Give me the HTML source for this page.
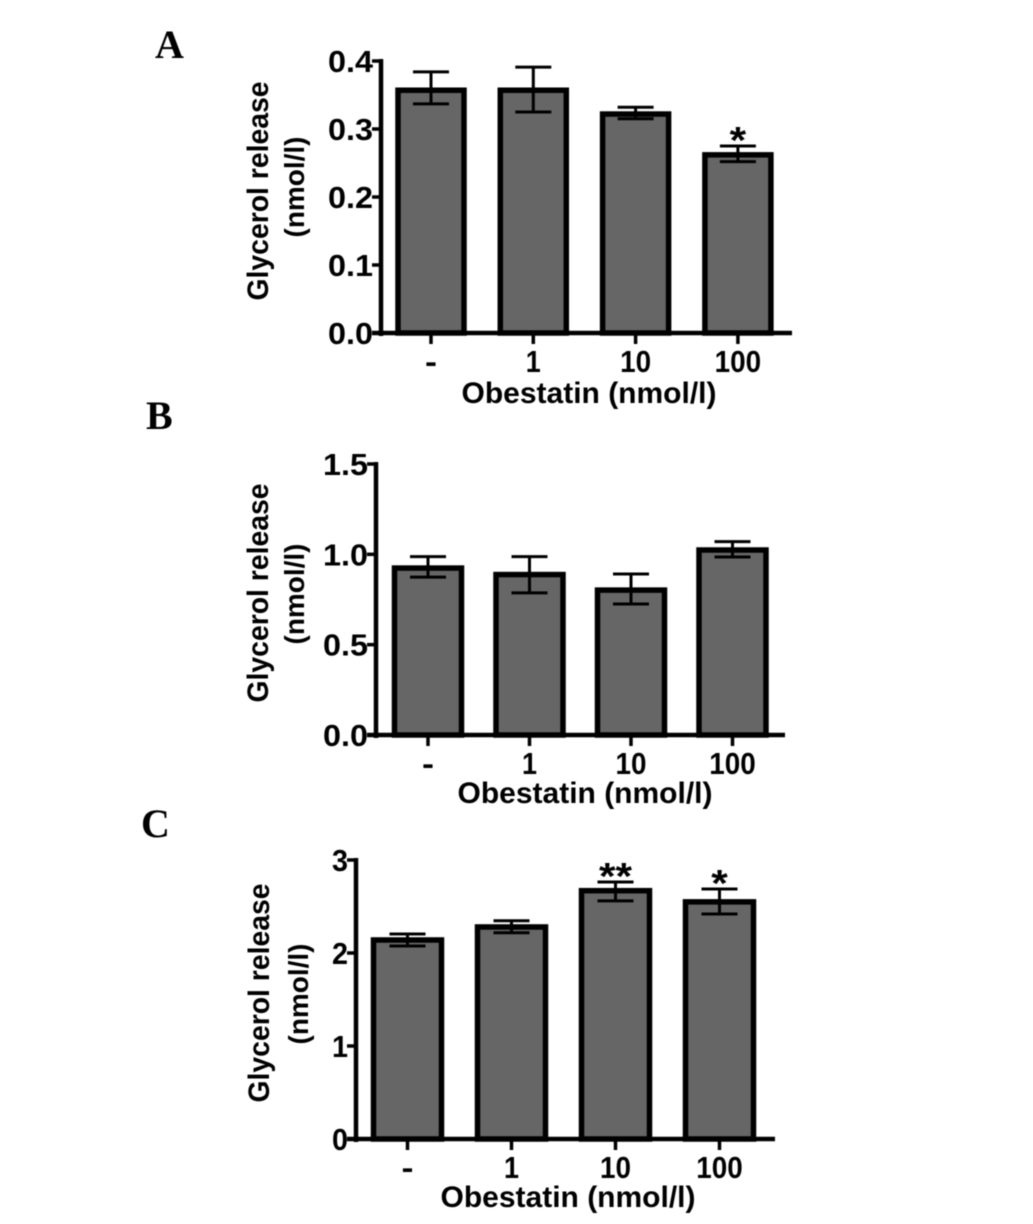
<!DOCTYPE html>
<html>
<head>
<meta charset="utf-8">
<title>Glycerol release</title>
<style>
html,body{margin:0;padding:0;background:#fff;}
svg{display:block;filter:blur(0.4px);}
text{font-family:"Liberation Sans",sans-serif;font-weight:bold;fill:#000;}
.letter{font-family:"Liberation Serif",serif;font-size:40px;}
</style>
</head>
<body>
<svg id="figure" width="1033" height="1224" viewBox="0 0 1033 1224"></svg>
<script>
const categories = ['-', '1', '10', '100'];
const axisTitleX = 'Obestatin (nmol/l)';

const valuesA = [0.357, 0.357, 0.322, 0.262];
const errTopA = [0.384, 0.391, 0.332, 0.275];
const errLowA = [0.337, 0.325, 0.315, 0.252];
const ticksA = ['0.0', '0.1', '0.2', '0.3', '0.4'];
const marksA = ['', '', '', '*'];

const valuesB = [0.924, 0.888, 0.802, 1.024];
const errTopB = [0.987, 0.987, 0.891, 1.07];
const errLowB = [0.874, 0.787, 0.725, 0.985];
const ticksB = ['0.0', '0.5', '1.0', '1.5'];
const marksB = ['', '', '', ''];

const valuesC = [2.14, 2.28, 2.67, 2.55];
const errTopC = [2.204, 2.347, 2.763, 2.688];
const errLowC = [2.075, 2.218, 2.56, 2.42];
const ticksC = ['0', '1', '2', '3'];
const marksC = ['', '', '**', '*'];

const NS = 'http://www.w3.org/2000/svg';
const root = document.getElementById('figure');

function make(tag, attrs, parent, txt) {
  const el = document.createElementNS(NS, tag);
  for (const k in attrs) el.setAttribute(k, attrs[k]);
  if (txt !== undefined) el.textContent = txt;
  parent.appendChild(el);
  return el;
}

function categoryWidth(label) {
  if (label === '-') return 12;
  if (label.length === 1) return 15;
  return label.length * 15.5;
}

function drawPanel(p) {
  const group = make('g', {}, root);
  
  

  const top = parseFloat(p.ticks[p.ticks.length - 1]);
  const yScale = v => p.y0 - (v / top) * (p.y0 - p.yTop);
  const xScale = i => p.xFirst + i * p.step;
  const barW = p.barW;

  const letter = make('text', {x: p.letterX, y: p.letterY, class: 'letter'}, group, p.id);
  
  

  p.values.forEach((v, i) => {
    const cx = xScale(i);
    const bar = make('rect', {x: cx - barW / 2, y: yScale(v), width: barW, height: p.y0 - yScale(v), fill: '#666', stroke: '#000', 'stroke-width': 5.5}, group);
    
    

    const hi = yScale(p.errTop[i]);
    const lo = yScale(p.errLow[i]);
    const err = make('path', {
      d: 'M' + cx + ' ' + hi + 'V' + lo + 'M' + (cx - 18) + ' ' + hi + 'H' + (cx + 18) + 'M' + (cx - 18) + ' ' + lo + 'H' + (cx + 18),
      stroke: '#000', 'stroke-width': 3, fill: 'none'
    }, group);
    
    

    if (p.marks[i]) {
      const star = make('text', {x: cx, y: hi + 7, 'font-size': 38, 'text-anchor': 'middle', textLength: p.marks[i].length * 16.5, lengthAdjust: 'spacingAndGlyphs'}, group, p.marks[i]);
      
      
    }

    const tick = make('line', {x1: cx, x2: cx, y1: p.y0, y2: p.y0 + 11, stroke: '#000', 'stroke-width': 3.5}, group);
    
    

    const lab = make('text', {x: cx, y: p.y0 + 39, 'font-size': 31, 'text-anchor': 'middle', textLength: categoryWidth(categories[i]), lengthAdjust: 'spacingAndGlyphs'}, group, categories[i]);
    
    
  });

  const yAxis = make('line', {x1: p.xAxis, x2: p.xAxis, y1: p.yTop - 2, y2: p.y0 + 3, stroke: '#000', 'stroke-width': 4.5}, group);
  
  

  const xAxis = make('line', {x1: p.xAxis - 9, x2: p.xEnd, y1: p.y0, y2: p.y0, stroke: '#000', 'stroke-width': 4.5}, group);
  
  

  p.ticks.forEach(t => {
    const y = yScale(parseFloat(t));
    const tk = make('line', {x1: p.xAxis - 9, x2: p.xAxis, y1: y, y2: y, stroke: '#000', 'stroke-width': 3.5}, group);
    
    
    const lb = make('text', {x: p.xAxis - 8, y: y + 11, 'font-size': 31, 'text-anchor': 'end', textLength: t.length > 1 ? 45 : 16, lengthAdjust: 'spacingAndGlyphs'}, group, t);
    
    
  });

  const xt = make('text', {x: p.titleX, y: p.y0 + p.titleDy, 'font-size': 30, 'text-anchor': 'middle', textLength: 255, lengthAdjust: 'spacingAndGlyphs'}, group, axisTitleX);
  
  

  const y1 = make('text', {transform: 'translate(' + p.ylabX1 + ' ' + p.ylabY1 + ') rotate(-90)', 'font-size': 30, 'text-anchor': 'middle', textLength: 219, lengthAdjust: 'spacingAndGlyphs'}, group, 'Glycerol release');
  
  

  const y2 = make('text', {transform: 'translate(' + p.ylabX2 + ' ' + p.ylabY2 + ') rotate(-90)', 'font-size': 28, 'text-anchor': 'middle', textLength: 101, lengthAdjust: 'spacingAndGlyphs'}, group, '(nmol/l)');
  
  
}

drawPanel({id: 'A', values: valuesA, errTop: errTopA, errLow: errLowA, ticks: ticksA, marks: marksA, barW: 66,
  y0: 333, yTop: 61, xAxis: 381, xEnd: 792, xFirst: 431, step: 102.3, titleDy: 70,
  letterX: 155, letterY: 58, titleX: 589, ylabX1: 268, ylabY1: 191, ylabX2: 304, ylabY2: 187});
drawPanel({id: 'B', values: valuesB, errTop: errTopB, errLow: errLowB, ticks: ticksB, marks: marksB, barW: 67,
  y0: 735, yTop: 464, xAxis: 376, xEnd: 785, xFirst: 428, step: 101.5, titleDy: 68,
  letterX: 146, letterY: 429, titleX: 585, ylabX1: 268, ylabY1: 593, ylabX2: 304, ylabY2: 594});
drawPanel({id: 'C', values: valuesC, errTop: errTopC, errLow: errLowC, ticks: ticksC, marks: marksC, barW: 68,
  y0: 1139, yTop: 860, xAxis: 356, xEnd: 775, xFirst: 407.5, step: 104, titleDy: 68,
  letterX: 141, letterY: 837, titleX: 568, ylabX1: 269, ylabY1: 993, ylabX2: 308, ylabY2: 994});
</script>
</body>
</html>
